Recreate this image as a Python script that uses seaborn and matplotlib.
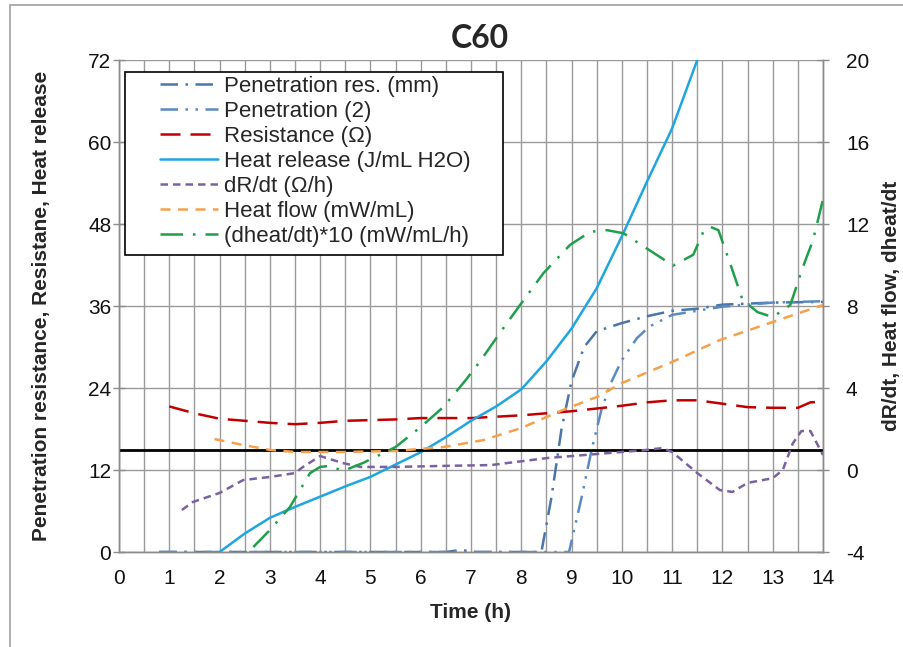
import matplotlib
matplotlib.use("Agg")
import matplotlib.pyplot as plt
from matplotlib.patches import Rectangle
from matplotlib.ticker import MultipleLocator
import seaborn as sns

# Data (time in hours)
t_pen1 = [0.8, 2, 3, 4, 5, 6, 6.5, 6.8, 7.1, 8, 8.4, 8.6, 8.8, 9.0, 9.25, 9.5, 10, 10.5, 11, 11.5, 12, 13, 14]
pen1 = [0, 0, 0, 0, 0, 0, 0, 0.3, 0, 0, 0, 8, 18, 25, 30, 32.3, 33.5, 34.5, 35.3, 35.6, 36.2, 36.5, 36.6]

t_pen2 = [0.8, 2, 3, 4, 5, 6, 7, 8, 8.95, 9.2, 9.4, 9.6, 9.8, 10, 10.3, 10.55, 11, 12, 13, 14]
pen2 = [0, 0, 0, 0, 0, 0, 0, 0, 0, 8, 15, 21, 25, 28.1, 31.3, 33, 34.7, 35.9, 36.5, 36.7]

t_res = [1, 1.5, 2, 2.5, 3, 3.5, 4, 4.5, 5, 5.5, 6, 6.5, 7, 7.5, 8, 8.5, 9, 9.5, 10, 10.5, 11, 11.5, 12, 12.5, 13, 13.5, 13.75, 14]
resistance = [21.3, 20.3, 19.5, 19.2, 18.9, 18.7, 18.9, 19.2, 19.3, 19.4, 19.6, 19.6, 19.6, 19.8, 20.0, 20.3, 20.6, 21.0, 21.4, 21.9, 22.2, 22.2, 21.7, 21.2, 21.1, 21.1, 21.9, 22.0]

t_heat = [2, 2.5, 3, 3.5, 4, 4.5, 5, 5.5, 6, 6.5, 7, 7.5, 8, 8.5, 9, 9.5, 10, 10.5, 11, 11.5]
heat_release = [0, 2.7, 5.0, 6.6, 8.1, 9.6, 11.0, 12.8, 14.6, 16.8, 19.2, 21.3, 23.8, 27.9, 32.7, 38.6, 46.2, 54.2, 62.0, 72.0]

t_drdt = [1.25, 1.47, 2.0, 2.47, 3.0, 3.5, 3.66, 4.0, 4.45, 4.8, 5.5, 6.45, 7.4, 8.5, 9.5, 10.5, 10.8, 11.0, 11.5, 11.95, 12.2, 12.5, 13.0, 13.2, 13.4, 13.57, 13.75, 14.0]
drdt = [-1.95, -1.56, -1.12, -0.49, -0.34, -0.15, 0.15, 0.68, 0.34, 0.15, 0.15, 0.2, 0.24, 0.58, 0.78, 0.98, 1.07, 0.88, -0.15, -0.98, -1.07, -0.63, -0.4, 0.0, 1.3, 1.9, 1.9, 0.73]

t_flow = [1.9, 2.47, 3.0, 3.5, 4.45, 5.5, 6.45, 7.25, 8.0, 8.83, 9.5, 10.0, 11.0, 11.95, 13.0, 14.0]
heat_flow = [1.51, 1.22, 0.98, 0.88, 0.88, 0.93, 1.12, 1.46, 2.05, 2.93, 3.56, 4.24, 5.27, 6.34, 7.22, 8.05]

t_dheat = [2.67, 3.0, 3.4, 3.8, 4.0, 4.2, 4.45, 4.85, 5.5, 6.0, 6.45, 6.9, 7.2, 7.64, 8.0, 8.44, 8.97, 9.37, 9.7, 10.03, 10.5, 11.02, 11.42, 11.62, 11.75, 11.92, 12.15, 12.4, 12.7, 13.0, 13.35, 13.6, 13.8, 14.0]
dheat = [-3.76, -2.93, -1.8, -0.15, 0.15, 0.2, -0.05, 0.34, 1.12, 2.1, 3.07, 4.4, 5.37, 6.91, 8.13, 9.6, 10.98, 11.62, 11.7, 11.55, 10.8, 9.97, 10.5, 11.62, 11.87, 11.7, 10.1, 8.3, 7.7, 7.46, 8.05, 9.9, 11.2, 13.2]

ref_level = 15  # black reference line, left axis
left_ticks = [0, 12, 24, 36, 48, 60, 72]
right_ticks = [-4, 0, 4, 8, 12, 16, 20]

sns.set_style("white")
plt.rcParams['font.family'] = ['Liberation Sans', 'DejaVu Sans']
plt.rcParams['axes.unicode_minus'] = False

fig = plt.figure(figsize=(9.04, 6.47), dpi=100)
ax = fig.add_axes([119 / 904, 1 - 552 / 647, 704 / 904, 492 / 647])
ax2 = ax.twinx()

# outer chart border
fig.patches.append(Rectangle((10 / 904, -0.02), 1.0, 1 - 5 / 647 + 0.02, transform=fig.transFigure,
                             fill=False, edgecolor='#a0a0a0', lw=1.2))

lw = 1.8
sns.lineplot(x=t_pen1, y=pen1, ax=ax, color='#4a76a8', lw=lw, linestyle=(0, (7, 3, 1, 3)),
             errorbar=None, label='Penetration res. (mm)')
sns.lineplot(x=t_pen2, y=pen2, ax=ax, color='#5b8ac2', lw=lw, linestyle=(0, (7, 3, 1, 3, 1, 3)),
             errorbar=None, label='Penetration (2)')
sns.lineplot(x=t_res, y=resistance, ax=ax, color='#c00000', lw=lw, linestyle=(0, (8, 4)),
             errorbar=None, label='Resistance (\u03a9)')
sns.lineplot(x=t_heat, y=heat_release, ax=ax, color='#1fa6e0', lw=lw, linestyle='-',
             errorbar=None, label='Heat release (J/mL H2O)')
sns.lineplot(x=t_drdt, y=drdt, ax=ax2, color='#7a62a0', lw=lw, linestyle=(0, (3, 2)),
             errorbar=None, label='dR/dt (\u03a9/h)')
sns.lineplot(x=t_flow, y=heat_flow, ax=ax2, color='#f7a04a', lw=lw, linestyle=(0, (4, 3)),
             errorbar=None, label='Heat flow (mW/mL)')
sns.lineplot(x=t_dheat, y=dheat, ax=ax2, color='#1f9e4c', lw=lw, linestyle=(0, (9, 4, 1, 4)),
             errorbar=None, label='(dheat/dt)*10 (mW/mL/h)')
ax.axhline(ref_level, color='black', lw=2, zorder=4)

for a in (ax, ax2):
    if a.get_legend() is not None:
        a.get_legend().remove()

ax.set_xlim(0, 14)
ax.set_ylim(0, 72)
ax2.set_ylim(-4, 20)
ax.set_xticks(range(0, 15))
ax.xaxis.set_minor_locator(MultipleLocator(0.5))
ax.set_yticks(left_ticks)
ax2.set_yticks(right_ticks)

ax.grid(True, which='minor', axis='x', color='#9a9a9a', lw=1)
ax.grid(True, which='major', axis='x', color='#9a9a9a', lw=1)
ax.grid(True, which='major', axis='y', color='#9a9a9a', lw=1)
ax.set_axisbelow(True)

for a in (ax, ax2):
    for s in a.spines.values():
        s.set_color('#8c8c8c')
        s.set_linewidth(1)
    a.spines['top'].set_visible(False)

ax.tick_params(axis='both', which='major', direction='inout', length=9, width=1,
               color='#8c8c8c', labelsize=15, labelcolor='#111111')
ax.tick_params(axis='y', pad=1)
ax.tick_params(axis='x', pad=8)
ax.tick_params(axis='x', which='minor', length=0)
ax2.tick_params(axis='y', direction='inout', length=9, width=1, color='#8c8c8c',
                labelsize=15, labelcolor='#111111', pad=12)

ax.set_xlabel('Time (h)', fontsize=15, fontweight='bold')
ax.xaxis.set_label_coords(0.5, (552 - 612) / 492)
ax.xaxis.label.set_va('center')
ax.set_ylabel('Penetration resistance, Resistane, Heat release', fontsize=15, fontweight='bold')
ax.yaxis.set_label_coords((42 - 119) / 704, 0.5)
ax.yaxis.label.set_va('center')
ax2.set_ylabel('dR/dt, Heat flow, dheat/dt', fontsize=15, fontweight='bold', rotation=90)
ax2.yaxis.set_label_coords((891 - 119) / 704, 0.5)
ax2.yaxis.label.set_va('center')

fig.text(480 / 904, 1 - 38 / 647, 'C60', ha='center', va='center', fontsize=23,
         fontweight='bold', family=['Lato', 'DejaVu Sans'])

# legend frame and entries
ax2.add_patch(Rectangle(((125 - 119) / 704, (552 - 255) / 492), 378 / 704, 183 / 492,
                        transform=ax2.transAxes, facecolor='white', edgecolor='black',
                        lw=1.2, zorder=6))
h1, l1 = ax.get_legend_handles_labels()
h2, l2 = ax2.get_legend_handles_labels()
leg = ax2.legend(h1 + h2, l1 + l2, loc='upper left', bbox_to_anchor=((160 - 119) / 704, (552 - 76) / 492),
                 frameon=False, fontsize=16, handlelength=2.6, handletextpad=0.3,
                 labelspacing=0.18, borderpad=0, borderaxespad=0)
leg.set_zorder(7)

fig.savefig('out.png', dpi=100)
